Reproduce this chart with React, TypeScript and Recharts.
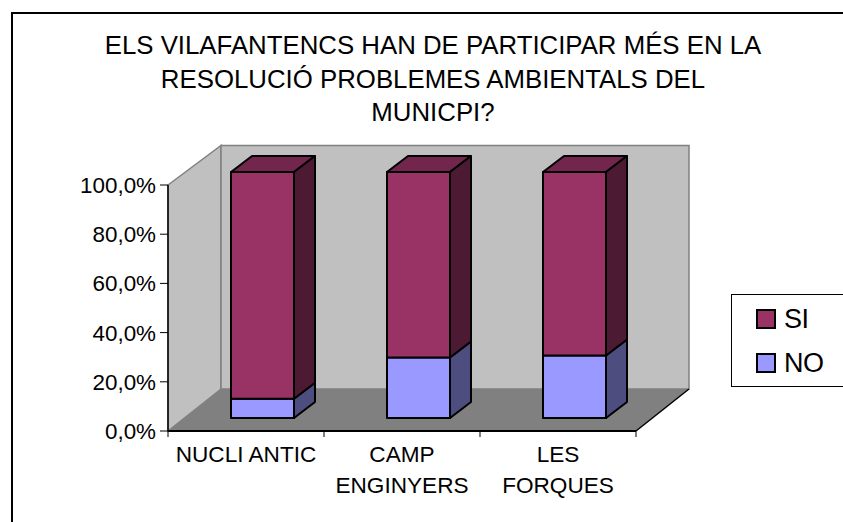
import { BarChart, Bar, XAxis, YAxis, Legend, ReferenceArea } from 'recharts';

const categories = [['NUCLI ANTIC'], ['CAMP', 'ENGINYERS'], ['LES', 'FORQUES']];
const noValues = [7.8, 24.6, 25.4];
const siValues = [92.2, 75.4, 74.6];
const yTicks = [0, 20, 40, 60, 80, 100];
const titleLines = [
  'ELS VILAFANTENCS HAN DE PARTICIPAR MÉS EN LA',
  'RESOLUCIÓ PROBLEMES AMBIENTALS DEL',
  'MUNICPI?',
];

const chartData = categories.map((lines, i) => ({
  name: lines.join(' '),
  lines,
  NO: noValues[i],
  SI: siValues[i],
}));

const FONT = '"Liberation Sans", Arial, sans-serif';
const BAND = 156;

function poly(points: number[][]) {
  return points.map((p) => p.join(',')).join(' ');
}

// back wall, side wall and floor of the fake 3d box
function Walls({ x, y, width, height }: any) {
  const dx = 53;
  const topDy = -39.5;
  const floorDy = -42;
  const bottom = y + height;
  const right = x + width;
  return (
    <g>
      <polygon points={poly([[x, y], [x + dx, y + topDy], [x + dx, bottom + floorDy], [x, bottom]])} fill="#c0c0c0" stroke="#808080" strokeWidth={1.5} />
      <polygon points={poly([[x + dx, y + topDy], [right + dx, y + topDy], [right + dx, bottom + floorDy], [x + dx, bottom + floorDy]])} fill="#c0c0c0" stroke="#808080" strokeWidth={1.5} />
      <polygon points={poly([[x, bottom], [x + dx, bottom + floorDy], [right + dx, bottom + floorDy], [right, bottom]])} fill="#808080" />
      <line x1={right} y1={bottom} x2={right + dx} y2={bottom + floorDy} stroke="#000" strokeWidth={1.5} />
    </g>
  );
}

function Box3d({ x, y, width, height, fill, side, top }: any) {
  const ox = x + 16;
  const oy = y - 13;
  const dx = 21;
  const dy = -16;
  const r = ox + width;
  const b = oy + height;
  const edge = { stroke: '#000', strokeWidth: 2, strokeLinejoin: 'round' as const };
  return (
    <g>
      <polygon points={poly([[ox, oy], [ox + dx, oy + dy], [r + dx, oy + dy], [r, oy]])} fill={top} {...edge} />
      <polygon points={poly([[r, oy], [r + dx, oy + dy], [r + dx, b + dy], [r, b]])} fill={side} {...edge} />
      <rect x={ox} y={oy} width={width} height={height} fill={fill} {...edge} />
    </g>
  );
}

function CategoryTick({ x, y, index, payload }: any) {
  const lines = chartData[index]?.lines ?? [payload.value];
  const left = x - BAND / 2;
  return (
    <g>
      <line x1={left} y1={y - 8} x2={left} y2={y - 2} stroke="#000" />
      {index === categories.length - 1 && (
        <line x1={left + BAND} y1={y - 8} x2={left + BAND} y2={y - 2} stroke="#000" />
      )}
      <text x={x} y={y + 23} textAnchor="middle" fontFamily={FONT} fontSize={22.6} fill="#000">
        {lines.map((line: string, i: number) => (
          <tspan key={line} x={x} dy={i === 0 ? 0 : 30.5}>{line}</tspan>
        ))}
      </text>
    </g>
  );
}

function LegendBox({ payload }: any) {
  const items = [...(payload ?? [])].reverse();
  return (
    <div style={{ width: 130, height: 93, boxSizing: 'border-box', border: '1px solid #000', background: '#fff', paddingTop: 2 }}>
      {items.map((item: any) => (
        <div key={item.value} style={{ height: 44, display: 'flex', alignItems: 'center', paddingLeft: 24, fontFamily: FONT, fontSize: 27, letterSpacing: -0.5, color: '#000' }}>
          <span style={{ width: 20, height: 20, boxSizing: 'border-box', border: '2px solid #000', background: item.color, marginRight: 8 }} />
          {item.value}
        </div>
      ))}
    </div>
  );
}

export default function App() {
  return (
    <div style={{ position: 'absolute', left: 0, top: 0, width: 843, height: 522, background: '#fff', overflow: 'hidden' }}>
      <div style={{ position: 'absolute', left: 11, top: 12, width: 840, height: 520, border: '2px solid #000', boxSizing: 'border-box' }} />
      <div style={{ position: 'absolute', left: 33, top: 29, width: 800, textAlign: 'center', fontFamily: FONT, fontSize: 25.8, lineHeight: '33.5px', color: '#000' }}>
        {titleLines.map((line) => (
          <div key={line}>{line}</div>
        ))}
      </div>
      <div style={{ position: 'absolute', left: 0, top: 0 }}>
        <BarChart
          width={843}
          height={522}
          data={chartData}
          margin={{ top: 185, right: 77, bottom: 0, left: 0 }}
          barSize={63}
          barCategoryGap={0}
        >
          <ReferenceArea y1={0} y2={100} shape={Walls} ifOverflow="visible" />
          <XAxis
            dataKey="name"
            height={91}
            interval={0}
            tick={CategoryTick}
            tickLine={false}
            axisLine={{ stroke: '#000', strokeWidth: 2 }}
          />
          <YAxis
            width={168}
            domain={[0, 100]}
            ticks={yTicks}
            tickFormatter={(v: number) => `${v.toFixed(1).replace('.', ',')}%`}
            tick={{ fontFamily: FONT, fontSize: 22.4, fill: '#000' }}
            tickLine={{ stroke: '#000' }}
            tickSize={8}
            tickMargin={4}
            axisLine={{ stroke: '#000', strokeWidth: 1.5 }}
          />
          <Legend
            layout="vertical"
            align="right"
            verticalAlign="top"
            content={LegendBox}
            wrapperStyle={{ left: 731, top: 294, right: 'auto', width: 130, height: 93 }}
          />
          <Bar dataKey="NO" stackId="a" fill="#9999ff" isAnimationActive={false} shape={(p: any) => <Box3d {...p} fill="#9999ff" side="#4d4d80" top="#7373bf" />} />
          <Bar dataKey="SI" stackId="a" fill="#993366" isAnimationActive={false} shape={(p: any) => <Box3d {...p} fill="#993366" side="#4d1a33" top="#73264d" />} />
        </BarChart>
      </div>
    </div>
  );
}
